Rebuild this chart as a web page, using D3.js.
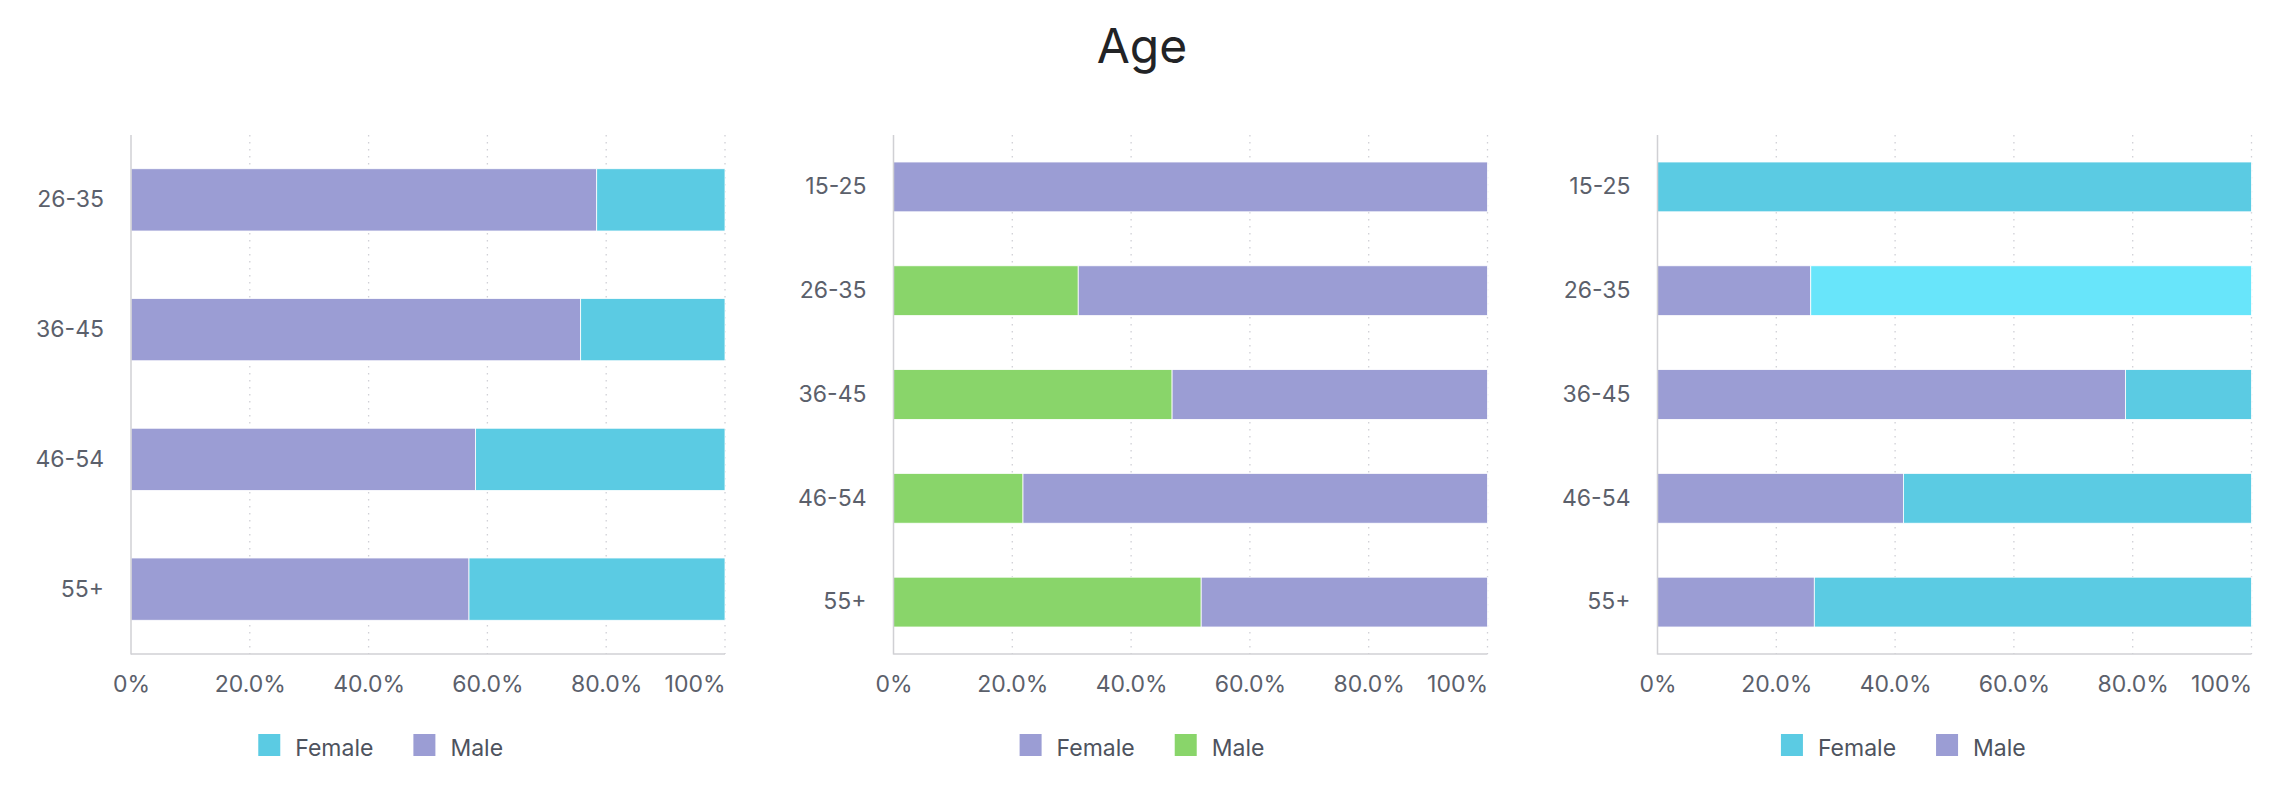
<!DOCTYPE html>
<html>
<head>
<meta charset="utf-8">
<script src="https://cdn.jsdelivr.net/npm/d3@7"></script>
<style>
  html, body { margin: 0; padding: 0; background: #ffffff; }
  svg { display: block; font-family: "Inter", "Noto Sans", sans-serif; }
</style>
</head>
<body>
<svg id="chart" width="2284" height="812"></svg>
<script>
// ---------- DATA ----------
const title = "Age";
const seriesNames = ["Female", "Male"];

const categories1 = ["26-35", "36-45", "46-54", "55+"];
const male1   = [78.4, 75.7, 58.0, 56.9];
const female1 = [21.6, 24.3, 42.0, 43.1];

const categories2 = ["15-25", "26-35", "36-45", "46-54", "55+"];
const male2   = [0, 31.1, 46.9, 21.8, 51.8];
const female2 = [100, 68.9, 53.1, 78.2, 48.2];

const categories3 = ["15-25", "26-35", "36-45", "46-54", "55+"];
const male3   = [0, 25.8, 78.8, 41.4, 26.4];
const female3 = [100, 74.2, 21.2, 58.6, 73.6];

const tickValues = [0, 20, 40, 60, 80, 100];
const tickLabels = ["0%", "20.0%", "40.0%", "60.0%", "80.0%", "100%"];

// ---------- STYLE / LAYOUT ----------
const colPurple = "#9b9dd4";
const colCyan = "#5bcbe3";
const colGreen = "#89d56a";
const colHover = "#68e5fa";

const panels = [
  { cats: categories1, female: female1, male: male1, x0: 131, x1: 725,
    colors: { Female: colCyan, Male: colPurple }, hover: null },
  { cats: categories2, female: female2, male: male2, x0: 893.5, x1: 1487.5,
    colors: { Female: colPurple, Male: colGreen }, hover: null },
  { cats: categories3, female: female3, male: male3, x0: 1657.5, x1: 2251.5,
    colors: { Female: colCyan, Male: colPurple }, hover: { series: "Female", index: 1 } }
];
const panelW = 2284 / 3;
const plotTop = 135, plotBottom = 654;
const textCol = "#5b606b";

const svg = d3.select("#chart");

svg.append("text")
  .attr("x", 1142).attr("y", 63)
  .attr("text-anchor", "middle")
  .attr("font-size", 48).attr("font-weight", 400)
  .attr("fill", "#222326")
  .text(title);

panels.forEach((p, pi) => {
  const g = svg.append("g");
  const x = d3.scaleLinear().domain([0, 100]).range([p.x0, p.x1]);
  const y = d3.scaleBand().domain(p.cats).range([plotTop, plotBottom])
    .paddingInner(0.52).paddingOuter(0.26);

  // grid lines
  g.selectAll(".grid").data(tickValues.slice(1)).join("line")
    .attr("x1", d => x(d)).attr("x2", d => x(d))
    .attr("y1", plotTop).attr("y2", plotBottom)
    .attr("stroke", "#d0d0d6").attr("stroke-width", 1.3)
    .attr("stroke-dasharray", "1.5,5.5");

  // stacked data: Male on the left, Female on the right
  const rows = p.cats.map((c, i) => ({ cat: c, Male: p.male[i], Female: p.female[i] }));
  const stack = d3.stack().keys(["Male", "Female"])(rows);
  stack.forEach(layer => {
    g.selectAll(null).data(layer).join("rect")
      .attr("x", d => x(d[0]))
      .attr("y", d => y(d.data.cat))
      .attr("width", d => Math.max(0, x(d[1]) - x(d[0])))
      .attr("height", y.bandwidth())
      .attr("fill", (d, i) => (p.hover && p.hover.series === layer.key && p.hover.index === i) ? colHover : p.colors[layer.key])
      .attr("stroke", "#ffffff").attr("stroke-width", 0.8);
  });

  // axes lines
  g.append("line").attr("x1", p.x0).attr("x2", p.x0).attr("y1", plotTop).attr("y2", plotBottom + 0.5)
    .attr("stroke", "#d0d0d4").attr("stroke-width", 1.5);
  g.append("line").attr("x1", p.x0).attr("x2", p.x1).attr("y1", plotBottom).attr("y2", plotBottom)
    .attr("stroke", "#d0d0d4").attr("stroke-width", 1.5);

  // y labels
  const yAxis = d3.axisLeft(y).tickSize(0).tickPadding(27);
  const ya = g.append("g").attr("transform", `translate(${p.x0},0)`).call(yAxis);
  ya.select(".domain").remove();
  ya.selectAll("text").attr("font-size", 23).attr("fill", textCol)
    .attr("font-family", "Inter, 'Noto Sans', sans-serif");

  // x labels
  const xAxis = d3.axisBottom(x).tickValues(tickValues).tickSize(0).tickPadding(0)
    .tickFormat((d, i) => tickLabels[i]);
  const xa = g.append("g").attr("transform", `translate(0,${plotBottom})`).call(xAxis);
  xa.select(".domain").remove();
  xa.selectAll("text").attr("font-size", 23).attr("fill", textCol)
    .attr("font-family", "Inter, 'Noto Sans', sans-serif")
    .attr("dy", null).attr("y", 38)
    .attr("text-anchor", (d, i) => i === tickValues.length - 1 ? "end" : "middle");

  // legend
  const cx = panelW * pi + panelW / 2;
  const lg = g.append("g");
  let cur = 0;
  seriesNames.forEach(n => {
    const it = lg.append("g").attr("transform", `translate(${cur},0)`);
    it.append("rect").attr("x", 0).attr("y", -22).attr("width", 22).attr("height", 22)
      .attr("fill", p.colors[n]);
    const t = it.append("text").attr("x", 37).attr("y", 0)
      .attr("font-size", 23).attr("fill", "#4e535e").text(n);
    const w = 37 + t.node().getComputedTextLength();
    cur += w + 40;
  });
  const total = cur - 40;
  lg.attr("transform", `translate(${cx - total / 2},756)`);
});
</script>
</body>
</html>
